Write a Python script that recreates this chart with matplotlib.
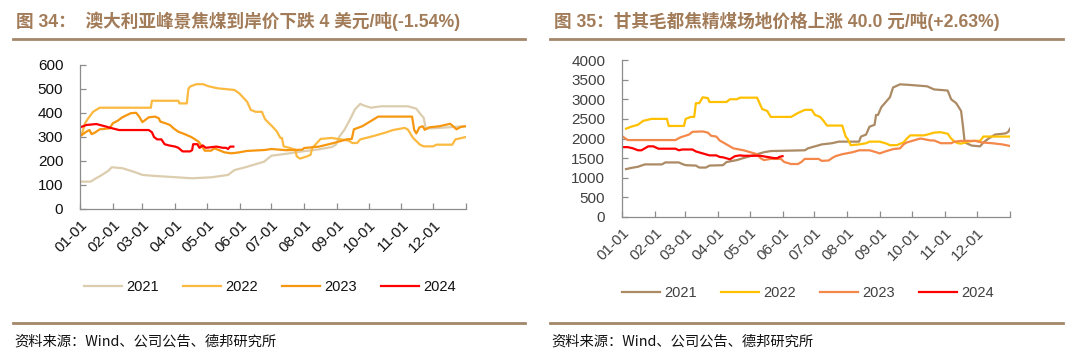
import matplotlib
matplotlib.use("Agg")
import matplotlib.pyplot as plt
from matplotlib.lines import Line2D

# ---------------- data ----------------
month_labels = ["01-01", "02-01", "03-01", "04-01", "05-01", "06-01",
                "07-01", "08-01", "09-01", "10-01", "11-01", "12-01"]
month_days = [0, 31, 59, 90, 120, 151, 181, 212, 243, 273, 304, 334]
years = ["2021", "2022", "2023", "2024"]

# Chart 34: Australian Peak Downs coking coal CIF (USD/t), x = day of year
aus_2021_day = [1, 10, 14, 20, 27, 30, 40, 51, 59, 70, 81, 106, 124, 140, 146, 158, 174, 181, 195,
                210, 225, 238, 242, 245, 250, 255, 260, 265, 268, 275, 285, 310, 318, 322, 325, 327,
                340, 365]
aus_2021_val = [114, 114, 125, 140, 160, 174, 170, 155, 142, 138, 135, 128, 132, 142, 162, 176, 197,
                222, 230, 240, 248, 258, 268, 300, 330, 370, 415, 438, 432, 422, 428, 428, 418, 395,
                380, 335, 338, 345]

aus_2022_day = [1.5, 4.7, 7.8, 12.4, 18.6, 67, 68, 93, 94, 101, 102.5, 104, 110, 116.5, 121, 130, 146,
                150.6, 155, 158, 161.5, 166, 172, 175, 181.6, 186, 189.5, 191, 192.5, 198.7, 203.5,
                205, 208, 214.5, 218, 219.6, 224, 227.5, 238, 254, 257.5, 262, 265, 277.5, 288.5, 296,
                307, 310, 315, 321.5, 325, 334, 337, 352, 355, 365]
aus_2022_val = [308, 357, 378, 405, 422, 422, 451, 451, 440, 440, 500, 510, 520, 520, 512, 503, 496,
                482, 461, 447, 413, 405, 405, 374, 345, 324, 296, 296, 261, 254, 247, 219, 210, 219,
                226, 254, 275, 292, 296, 285, 275, 275, 290, 304, 318, 329, 338, 331, 296, 268, 261,
                261, 268, 268, 290, 300]

aus_2023_day = [1.5, 6, 9, 10.9, 14, 18.6, 28, 31, 35.7, 40, 48, 53, 56, 59, 65, 71, 74.5, 76, 81, 85,
                88.5, 93, 99, 105.6, 112, 116.5, 118, 124, 127, 136.6, 143, 149, 158, 175, 181, 195,
                210, 212, 226, 240, 252, 257, 259, 267, 276, 282, 314, 316, 318, 321, 324, 326, 330,
                340, 350, 352, 356, 360, 365]
aus_2023_val = [308, 322, 329, 312, 318, 332, 336, 357, 368, 382, 399, 401, 385, 362, 382, 385, 378,
                364, 357, 350, 336, 322, 312, 299, 281, 253, 243, 243, 253, 236, 232, 235, 242, 246,
                250, 245, 247, 254, 260, 275, 290, 292, 332, 345, 369, 385, 385, 330, 315, 340, 345,
                330, 340, 345, 355, 348, 332, 342, 345]

aus_2024_day = [0, 6, 15.5, 25, 28, 37, 65, 68, 70, 73, 77, 80, 84, 90, 93, 97, 104, 106, 107, 111,
                113, 116, 119, 129, 135, 138, 140, 142, 145]
aus_2024_val = [340, 350, 354, 343, 339, 329, 329, 320, 300, 290, 290, 270, 265, 260, 255, 240, 240,
                245, 270, 270, 255, 265, 255, 260, 255, 255, 250, 260, 260]

# Chart 35: Ganqimaodu coking coal yard price (CNY/t)
gqm_2021_day = [3.8, 8.6, 15, 21.5, 37.5, 40.7, 53.5, 56.7, 60, 69.5, 72.7, 79, 82.3, 95, 98.3, 108,
                114, 120.7, 127, 133.5, 140, 172, 175, 181.5, 188, 197.6, 204, 223, 224.8, 229.6,
                232.8, 237.6, 239, 240.8, 244, 248.8, 252, 255, 261.6, 268, 277.6, 287, 293.6, 303,
                306.4, 309.6, 314.4, 319, 320.8, 322.4, 329, 336.9, 340, 344.9, 348, 351, 360.9,
                363.4, 365]
gqm_2021_val = [1220, 1250, 1280, 1340, 1340, 1390, 1390, 1350, 1320, 1310, 1260, 1260, 1310, 1320,
                1400, 1450, 1500, 1550, 1600, 1650, 1680, 1700, 1750, 1800, 1850, 1880, 1920, 1920,
                2050, 2100, 2300, 2350, 2600, 2600, 2800, 2950, 3050, 3300, 3380, 3370, 3350, 3330,
                3250, 3230, 3220, 3000, 2900, 2700, 2300, 1900, 1820, 1800, 1900, 2000, 2050, 2100,
                2130, 2170, 2250]

gqm_2022_day = [3.8, 8.6, 15, 20, 27.9, 42.3, 43.9, 58.3, 59.9, 64.7, 67.9, 69.5, 72.7, 75.9, 80.7,
                82.3, 98.3, 101.5, 107.9, 111.1, 127.1, 131.9, 136.7, 139.9, 159.1, 165.5, 172,
                178.4, 181.6, 186.4, 189.6, 192.8, 207.2, 210.4, 212, 215.2, 223.2, 229.6, 232.8,
                242.4, 248.8, 252, 258.4, 264.8, 268, 271.2, 284, 287.2, 293.6, 300, 306.4, 309.6,
                312.8, 316, 319.2, 325.6, 332, 336.9, 340, 365]
gqm_2022_val = [2250, 2300, 2350, 2450, 2500, 2500, 2320, 2320, 2500, 2550, 2550, 2900, 2900, 3050,
                3030, 2930, 2930, 3000, 3000, 3040, 3040, 2750, 2700, 2550, 2550, 2650, 2730, 2730,
                2600, 2550, 2450, 2330, 2330, 2050, 2000, 1830, 1850, 1880, 1920, 1920, 1870, 1830,
                1830, 1900, 2000, 2080, 2080, 2100, 2150, 2160, 2120, 2000, 1920, 1880, 1870, 1920,
                1940, 1940, 2050, 2050]

gqm_2023_day = [0.6, 5.4, 50.3, 55, 63, 66.3, 75.9, 80.7, 83.9, 88.7, 91.9, 98.3, 104.7, 114.3, 120.7,
                127.1, 130.3, 133.5, 139.9, 149.5, 152.7, 159.1, 165.5, 168.7, 171.9, 184.8, 188,
                194.4, 197.6, 200.8, 207.2, 216.8, 223.2, 232.8, 239.2, 242.4, 248.8, 255.2, 261.6,
                264.8, 268, 274.4, 280.8, 290.4, 293.6, 300, 309.6, 312.8, 319.2, 332, 338.4, 348,
                357.7, 365]
gqm_2023_val = [2050, 1960, 1960, 2030, 2100, 2170, 2180, 2150, 2070, 2050, 1950, 1850, 1750, 1700,
                1650, 1600, 1500, 1450, 1480, 1480, 1400, 1350, 1350, 1400, 1480, 1480, 1430, 1440,
                1500, 1550, 1600, 1650, 1700, 1700, 1650, 1620, 1680, 1730, 1750, 1850, 1900, 1950,
                2000, 1950, 1950, 1880, 1880, 1920, 1940, 1940, 1900, 1880, 1850, 1810]

gqm_2024_day = [0.6, 5.4, 10.2, 15, 18.3, 24.7, 29.5, 34.3, 50.3, 53.5, 56.7, 66.3, 69.5, 75.9, 82.3,
                88.7, 91.9, 95.1, 101.5, 106.3, 111.1, 114.3, 130.3, 136.7, 143.1, 146.3, 147.9, 151]
gqm_2024_val = [1780, 1780, 1750, 1700, 1700, 1800, 1800, 1740, 1740, 1700, 1720, 1720, 1670, 1620,
                1570, 1570, 1530, 1520, 1470, 1550, 1570, 1560, 1560, 1530, 1500, 1500, 1530, 1550]

aus_series = [(aus_2021_day, aus_2021_val), (aus_2022_day, aus_2022_val),
              (aus_2023_day, aus_2023_val), (aus_2024_day, aus_2024_val)]
gqm_series = [(gqm_2021_day, gqm_2021_val), (gqm_2022_day, gqm_2022_val),
              (gqm_2023_day, gqm_2023_val), (gqm_2024_day, gqm_2024_val)]

aus_colors = ["#dccdae", "#fbb940", "#f7960f", "#ff0000"]
gqm_colors = ["#ab8a64", "#ffc000", "#f4884a", "#ff0000"]

title_left = "图 34：  澳大利亚峰景焦煤到岸价下跌 4 美元/吨(-1.54%)"
title_right = "图 35：甘其毛都焦精煤场地价格上涨 40.0 元/吨(+2.63%)"
source_text = "资料来源：Wind、公司公告、德邦研究所"

# ---------------- drawing ----------------
W, H = 1080, 355
plt.rcParams['font.family'] = ['Liberation Sans', 'Noto Sans CJK SC', 'DejaVu Sans']
fig = plt.figure(figsize=(W / 100, H / 100), dpi=100)

brown = "#a4866a"
title_col = "#a27b58"


def fx(px):
    return px / W


def fy(py):
    return 1 - py / H


def make_axes(rect, series, colors, ylim, yticks, tick_col):
    x0, y0, x1, y1 = rect
    ax = fig.add_axes([fx(x0), fy(y1), fx(x1 - x0), (y1 - y0) / H])
    for (d, v), c, lab in zip(series, colors, years):
        ax.plot(d, v, color=c, lw=1.6, label=lab, solid_joinstyle='round')
    ax.set_xlim(0, 365)
    ax.set_ylim(*ylim)
    ax.set_yticks(yticks)
    ax.set_xticks(month_days + [365])
    ax.set_xticklabels(month_labels + [""], rotation=45, ha='right', rotation_mode='anchor')
    for s in ['top', 'right']:
        ax.spines[s].set_visible(False)
    for s in ['left', 'bottom']:
        ax.spines[s].set_color('#8c8c8c')
        ax.spines[s].set_linewidth(0.9)
    ax.tick_params(axis='both', direction='in', length=4, width=0.9, color='#8c8c8c',
                   labelsize=11, labelcolor=tick_col)
    ax.tick_params(axis='x', pad=6)
    ax.tick_params(axis='y', pad=12)
    return ax


axL = make_axes((80, 65, 466, 209), aus_series, aus_colors, (0, 600), range(0, 601, 100), '#111111')
axR = make_axes((622, 60, 1010, 217), gqm_series, gqm_colors, (0, 4000), range(0, 4001, 500), '#404040')

for ax, cx, cy, tc in [(axL, 270, 287, '#111111'), (axR, 808, 293, '#404040')]:
    leg = ax.legend(loc='center', bbox_to_anchor=(fx(cx), fy(cy)), bbox_transform=fig.transFigure,
                    ncol=4, frameon=False, fontsize=10.5, handlelength=2.6, handletextpad=0.25,
                    columnspacing=1.7)
    for t in leg.get_texts():
        t.set_color(tc)

# titles
for txt, x in [(title_left, 16), (title_right, 554)]:
    fig.text(fx(x), fy(21), txt, ha='left', va='center', fontsize=12.7, fontweight='bold',
             color=title_col, family=['Liberation Sans', 'Noto Sans CJK SC'])

# rule lines
for (xa, xb) in [(13, 525), (550, 1063)]:
    fig.add_artist(Line2D([fx(xa), fx(xb)], [fy(39), fy(39)], color=brown, lw=2.0))
    fig.add_artist(Line2D([fx(xa), fx(xb)], [fy(323), fy(323)], color=brown, lw=2.0))

for x in [14, 551]:
    fig.text(fx(x), fy(342), source_text, ha='left', va='center', fontsize=10.3, color='#111111',
             family=['Noto Sans CJK SC', 'Liberation Sans'])

fig.savefig("out.png", dpi=100)
